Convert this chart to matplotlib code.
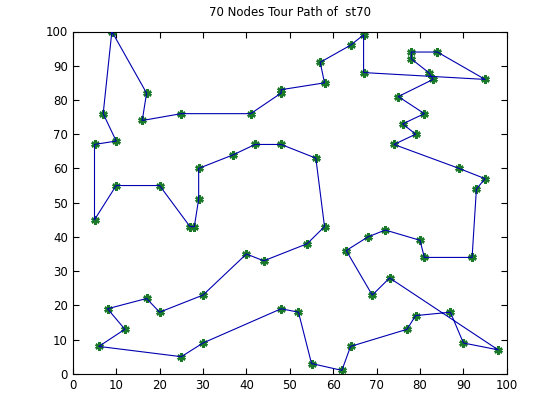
import numpy as np
import matplotlib
matplotlib.use('Agg')
import matplotlib.pyplot as plt

# st70 node coordinates (node id -> x, y)
node_x = [64, 80, 69, 72, 48, 58, 81, 79, 30, 42, 7, 29, 78, 64, 95, 57, 40, 68, 92, 62,
          28, 76, 67, 93, 6, 87, 30, 77, 78, 55, 82, 73, 20, 27, 95, 67, 48, 75, 8, 20,
          54, 63, 44, 52, 12, 25, 58, 5, 90, 41, 25, 37, 56, 10, 98, 16, 89, 48, 81, 29,
          17, 5, 79, 9, 17, 74, 10, 48, 83, 84]
node_y = [96, 39, 23, 42, 67, 43, 34, 17, 23, 67, 76, 51, 92, 8, 57, 91, 35, 40, 34, 1,
          43, 73, 88, 54, 8, 18, 9, 13, 94, 3, 88, 28, 55, 43, 86, 99, 83, 81, 19, 18,
          38, 36, 33, 18, 13, 5, 85, 67, 9, 76, 76, 64, 63, 55, 7, 74, 60, 82, 76, 60,
          22, 45, 70, 100, 82, 67, 68, 19, 86, 94]

# tour order (1-based node ids)
tour = [64, 65, 56, 51, 50, 58, 37, 47, 16, 1, 36, 23, 35, 70, 29, 13, 31, 69, 38, 59,
        22, 63, 66, 57, 15, 24, 19, 7, 2, 4, 18, 42, 3, 32, 55, 49, 26, 8, 28, 14,
        20, 30, 44, 68, 27, 46, 25, 45, 39, 61, 40, 9, 17, 43, 41, 6, 53, 5, 10, 52,
        60, 12, 21, 34, 33, 54, 62, 48, 67, 11]

x = np.array(node_x)
y = np.array(node_y)
idx = np.array(tour + [tour[0]]) - 1

plt.rcParams['font.family'] = 'DejaVu Sans'
fig = plt.figure(figsize=(5.6, 4.2), dpi=100)
ax = fig.add_axes([0.13, 0.11, 0.775, 0.815])

# nodes as green asterisks, tour as blue line on top
ax.plot(x, y, marker=(6, 2, 0), linestyle='none', color='#1b7a2a',
        markersize=6, markeredgewidth=1.8, zorder=2)
ax.plot(x[idx], y[idx], '-', color='#0000b0', linewidth=0.8, zorder=3)

ax.set_xlim(0, 100)
ax.set_ylim(0, 100)
ax.set_xticks(np.arange(0, 101, 10))
ax.set_yticks(np.arange(0, 101, 10))
ax.tick_params(direction='in', top=True, right=True, labelsize=8.5, length=4)
ax.set_title('70 Nodes Tour Path of  st70', fontsize=8.5, pad=11)

fig.savefig('out.png', dpi=100)
